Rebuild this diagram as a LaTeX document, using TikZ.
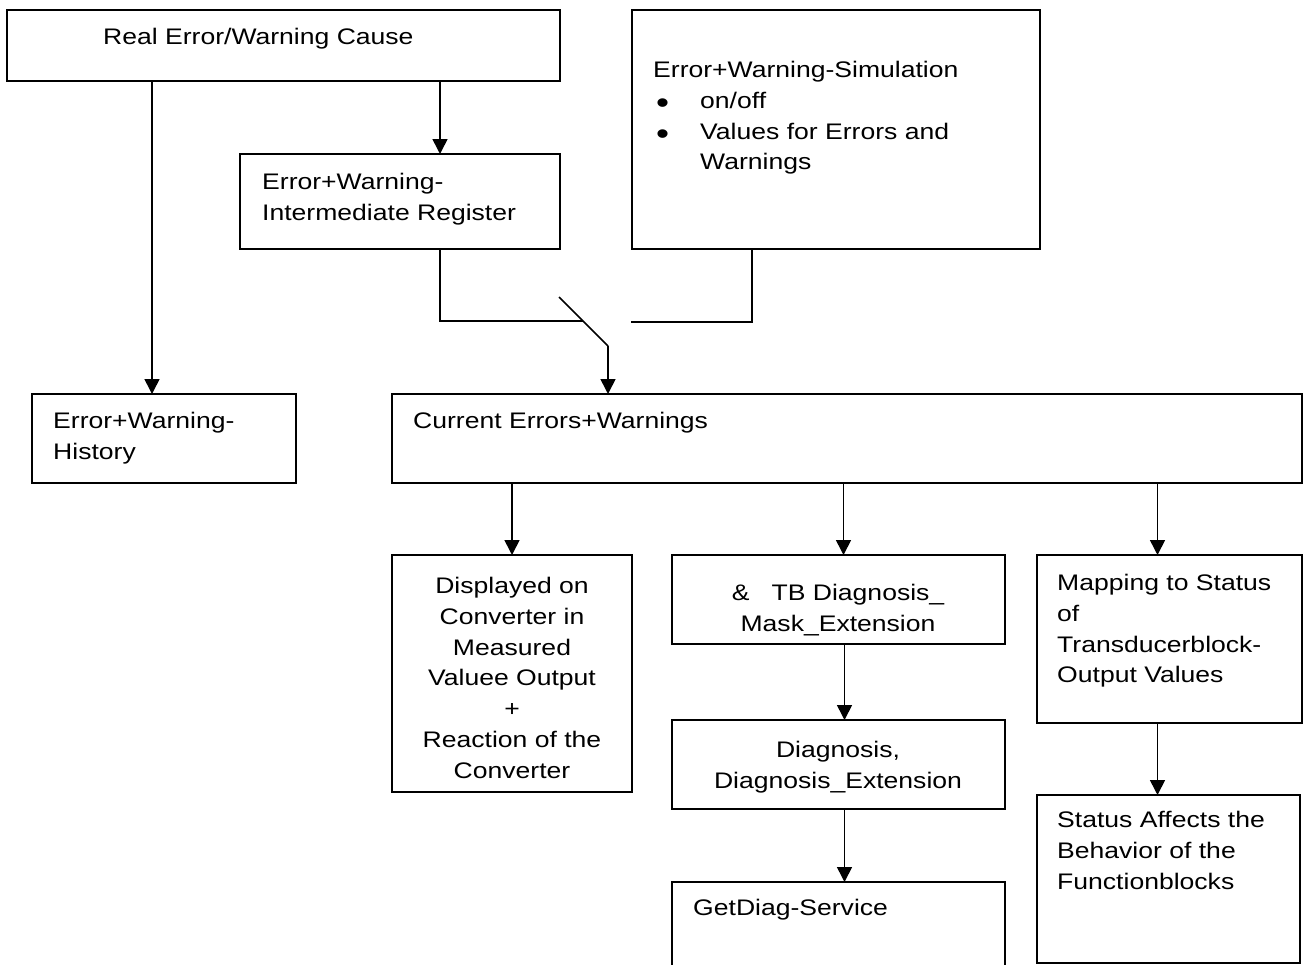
\documentclass[tikz,border=0pt]{standalone}
\usepackage{fontspec}
\setmainfont[FakeStretch=1.18]{Liberation Sans}
\usetikzlibrary{arrows.meta, positioning}
\newcommand{\bigbullet}{\makebox[47pt][l]{\hspace{3pt}\smash{\raisebox{-5pt}{\scalebox{1.4}{\textbullet}}}}}

\begin{document}
\begin{tikzpicture}[
  x=1pt, y=-1pt,
  box/.style={draw, line width=1.6pt, anchor=north west, inner sep=0pt, outer sep=0pt},
  txt/.style={anchor=north west, align=left, inner sep=0pt,
              font=\fontsize{22.5pt}{30.8pt}\selectfont},
  ctxt/.style={anchor=north, align=center, inner sep=0pt,
               font=\fontsize{22.5pt}{30.8pt}\selectfont},
  wire/.style={line width=1.6pt},
  arr/.style={-{Triangle[length=15pt, width=15pt]}, line width=1.6pt}]
\useasboundingbox (0,0) rectangle (1305,964);
\clip (0,0) rectangle (1305,964);
\node[box, minimum width=553pt, minimum height=71pt] (cause) at (7,10) {};
\node[box, minimum width=320pt, minimum height=95pt] (reg) at (240,154) {};
\node[box, minimum width=408pt, minimum height=239pt] (sim) at (632,10) {};
\node[box, minimum width=264pt, minimum height=89pt] (hist) at (32,394) {};
\node[box, minimum width=910pt, minimum height=89pt] (cur) at (392,394) {};
\node[box, minimum width=240pt, minimum height=237pt] (disp) at (392,555) {};
\node[box, minimum width=333pt, minimum height=89pt] (tb) at (672,555) {};
\node[box, minimum width=333pt, minimum height=89pt] (diag) at (672,720) {};
\node[box, minimum width=333pt, minimum height=120pt] (get) at (672,882) {};
\node[box, minimum width=265pt, minimum height=168pt] (map) at (1037,555) {};
\node[box, minimum width=263pt, minimum height=168pt] (status) at (1037,795) {};

\node[txt] (causeT) at (103,28) {Real Error/Warning Cause};
\node[txt] (regT) at (262,173) {Error+Warning-\\Intermediate Register};
\node[txt] (simT) at (653,61) {Error+Warning-Simulation\\
  \bigbullet on/off\\
  \bigbullet Values for Errors and\\
  \hspace*{47pt}Warnings};
\node[txt] (histT) at (53,412) {Error+Warning-\\History};
\node[txt] (curT) at (413,412) {Current Errors+Warnings};
\node[ctxt] (dispT) at (512,577) {Displayed on\\Converter in\\Measured\\Valuee Output\\+\\Reaction of the\\Converter};
\node[ctxt] (tbT) at (838,584) {\&~~~TB Diagnosis\_\\Mask\_Extension};
\node[ctxt] (diagT) at (838,741) {Diagnosis,\\Diagnosis\_Extension};
\node[txt] (getT) at (693,899) {GetDiag-Service};
\node[txt] (mapT) at (1057,574) {Mapping to Status\\of\\Transducerblock-\\Output Values};
\node[txt] (statusT) at (1057,811) {Status Affects the\\Behavior of the\\Functionblocks};

\coordinate (swL) at (583,321);
\coordinate (swTop) at (559,297);
\coordinate (swBot) at (608,346);
\coordinate (swR) at (631,322);

\draw[arr] ([xshift=-12pt]hist.north |- cause.south) -- ([xshift=-12pt]hist.north);
\draw[arr] ([xshift=40pt]reg.north |- cause.south) -- ([xshift=40pt]reg.north);
\draw[wire] ([xshift=40pt]reg.south) |- (swL);
\draw[wire] ([xshift=-84pt]sim.south) |- (swR);
\draw[wire] (swTop) -- (swBot);
\draw[arr] (swBot) -- (swBot |- cur.north);
\draw[arr] (disp.north |- cur.south) -- (disp.north);
\draw[arr] ([xshift=5pt]tb.north |- cur.south) -- ([xshift=5pt]tb.north);
\draw[arr] ([xshift=-12pt]map.north |- cur.south) -- ([xshift=-12pt]map.north);
\draw[arr] ([xshift=6pt]tb.south) -- ([xshift=6pt]diag.north);
\draw[arr] ([xshift=6pt]diag.south) -- ([xshift=6pt]get.north);
\draw[arr] ([xshift=-12pt]map.south) -- ([xshift=-12pt]map.south |- status.north);
\end{tikzpicture}
\end{document}
